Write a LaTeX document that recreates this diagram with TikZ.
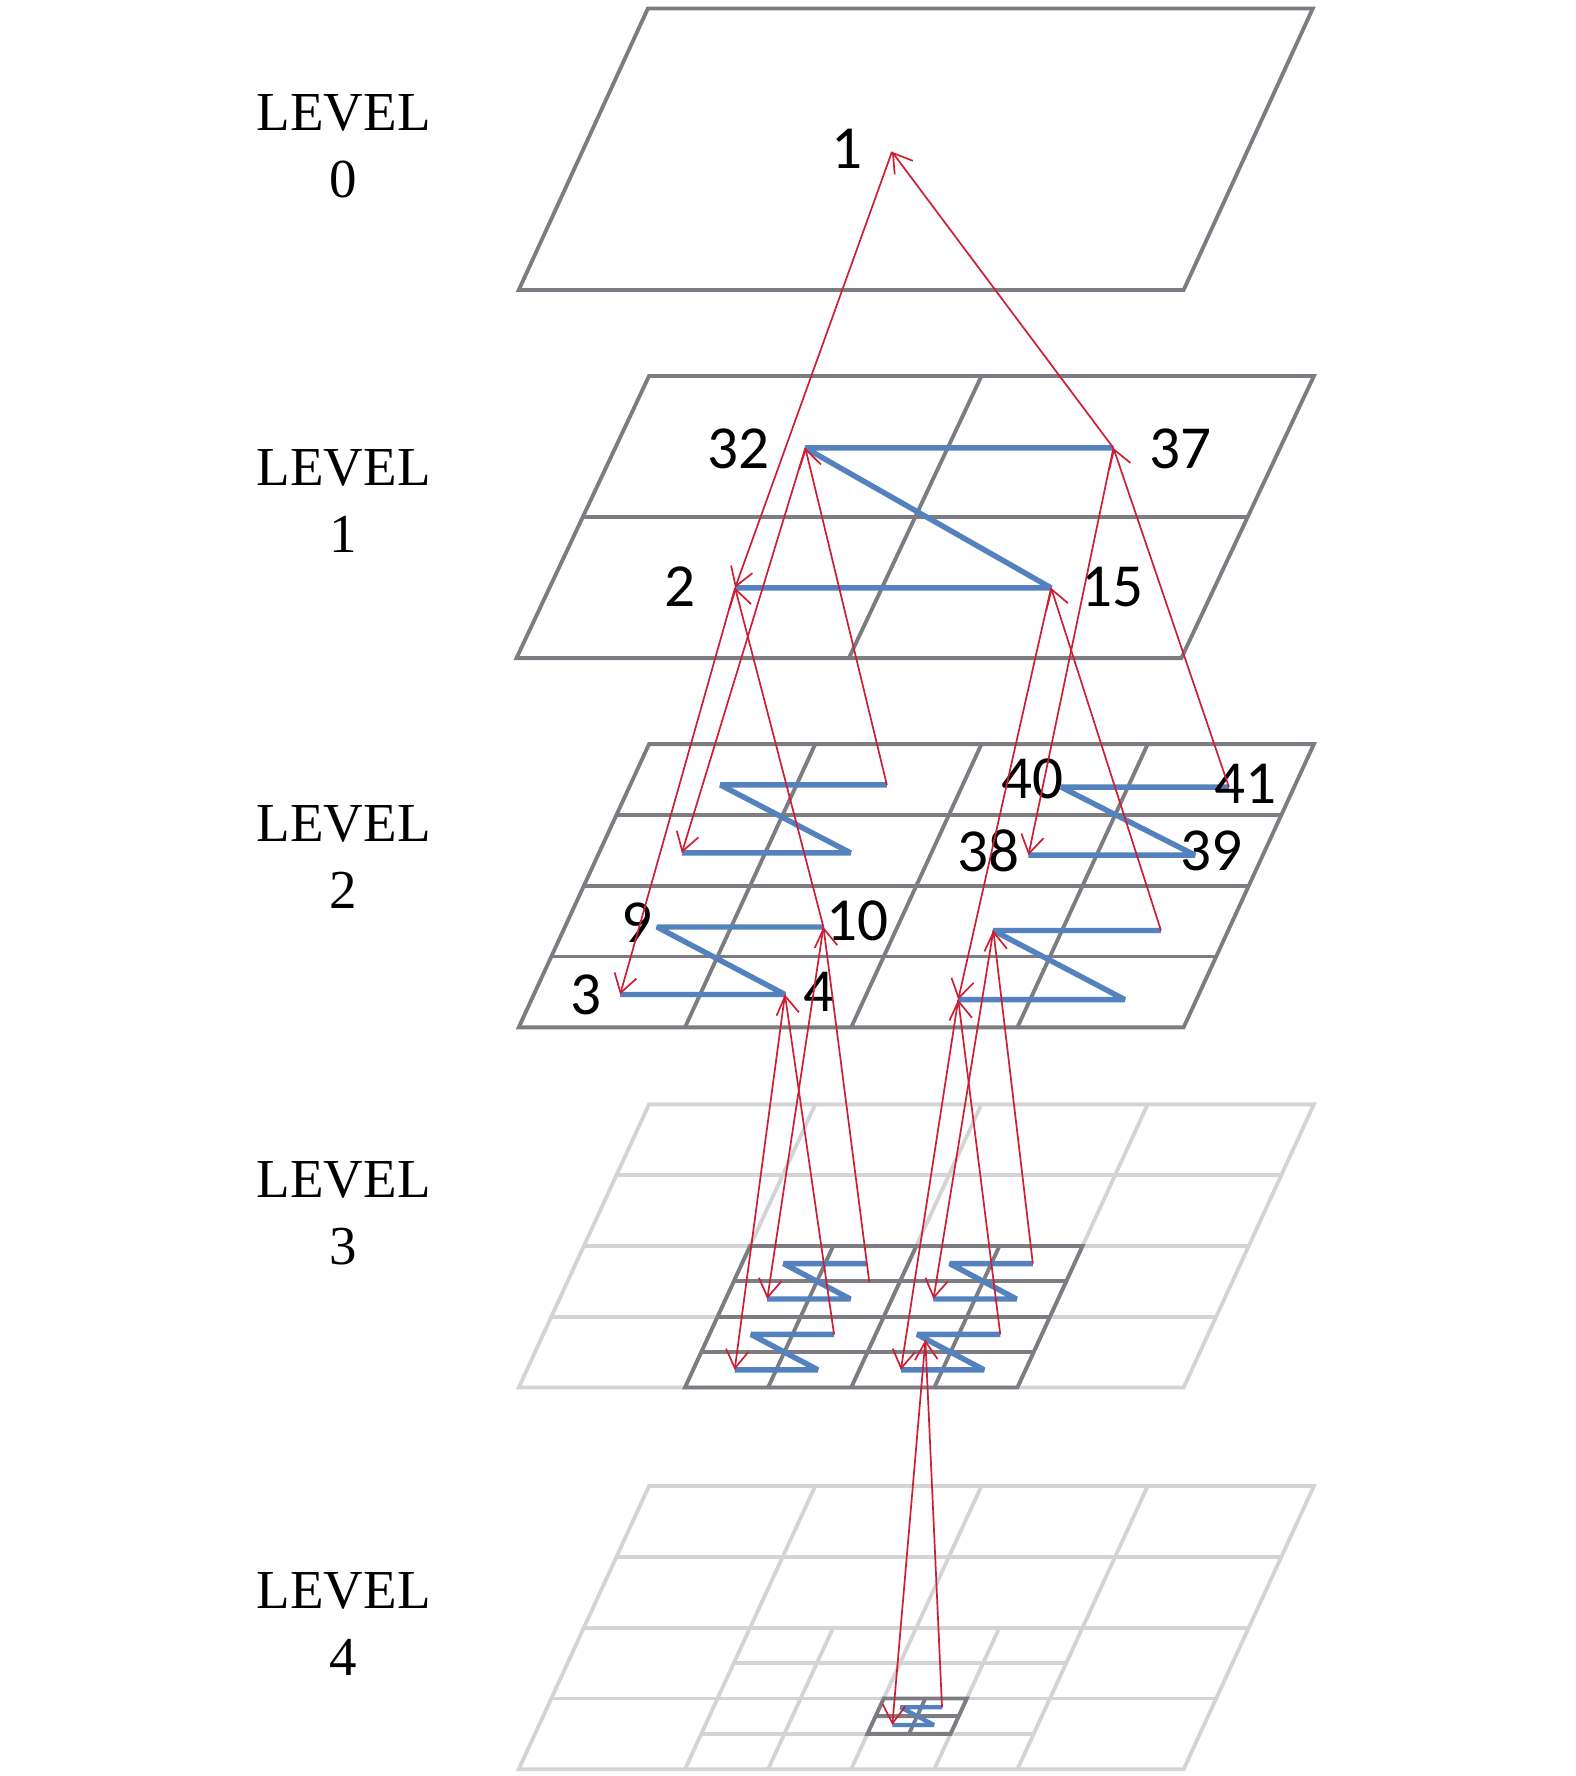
\documentclass[tikz,border=0pt]{standalone}
\usepackage{fontspec}
\setmainfont{Liberation Serif}
\newfontfamily\numfont{Carlito}
\usetikzlibrary{arrows.meta}
\definecolor{gridd}{RGB}{124,124,130}
\definecolor{gridl}{RGB}{212,212,212}
\definecolor{zblue}{RGB}{84,130,190}
\definecolor{lred}{RGB}{206,30,52}
\tikzset{
  dgrid/.style={draw=gridd, line width=3.4pt},
  lgrid/.style={draw=gridl, line width=3.4pt},
  zline/.style={draw=zblue, line width=4.8pt, line join=miter, miter limit=2},
  zsmall/.style={draw=zblue, line width=3.8pt, line join=miter, miter limit=2},
  rarrow/.style={draw=lred, line width=1.5pt, -{Straight Barb[length=16pt,width=20pt]}},
  numlbl/.style={font=\numfont\fontsize{54}{60}\selectfont, inner sep=0pt, anchor=center},
  lvltxt/.style={font=\fontsize{48.5}{59}\selectfont, inner sep=0pt, anchor=base}
}
\begin{document}
\begin{tikzpicture}[x=1pt,y=-1pt]
\useasboundingbox (0,0) rectangle (1391,1568);

% ---------- level labels ----------
\node[lvltxt] (L0a) at (303.5,115) {LEVEL};
\node[lvltxt] (L0b) at (303,174) {0};
\node[lvltxt] (L1a) at (303.5,429) {LEVEL};
\node[lvltxt] (L1b) at (303,488) {1};
\node[lvltxt] (L2a) at (303.5,743) {LEVEL};
\node[lvltxt] (L2b) at (303,802) {2};
\node[lvltxt] (L3a) at (303.5,1057) {LEVEL};
\node[lvltxt] (L3b) at (303,1116) {3};
\node[lvltxt] (L4a) at (303.5,1420) {LEVEL};
\node[lvltxt] (L4b) at (303,1479) {4};

% ---------- level 0 ----------
\begin{scope}[shift={(572,7.5)}, x={(587pt,0pt)}, y={(-114pt,-248.5pt)}]
  \draw[dgrid] (0,0)--(1,0)--(1,1)--(0,1)--cycle;
\end{scope}

% ---------- level 1 ----------
\begin{scope}[shift={(573,332)}, x={(587pt,0pt)}, y={(-117pt,-249pt)}]
  \draw[dgrid] (0,0)--(1,0)--(1,1)--(0,1)--cycle;
  \draw[dgrid] (0,0.5)--(1,0.5) (0.5,0)--(0.5,1);
\end{scope}

% ---------- level 2 ----------
\begin{scope}[shift={(573,657)}, x={(587pt,0pt)}, y={(-115pt,-250pt)}]
  \draw[dgrid] (0,0)--(1,0)--(1,1)--(0,1)--cycle;
  \foreach \t in {0.25,0.5,0.75} {
    \draw[dgrid] (\t,0)--(\t,1);
    \draw[dgrid] (0,\t)--(1,\t);
  }
\end{scope}

% ---------- level 3 ----------
\begin{scope}[shift={(573,975)}, x={(587pt,0pt)}, y={(-115pt,-250pt)}]
  \draw[lgrid] (0,0)--(1,0)--(1,1)--(0,1)--cycle;
  \foreach \t in {0.25,0.5,0.75} {
    \draw[lgrid] (\t,0)--(\t,1);
    \draw[lgrid] (0,\t)--(1,\t);
  }
  \draw[dgrid] (0.25,0.5)--(0.75,0.5)--(0.75,1)--(0.25,1)--cycle;
  \foreach \t in {0.375,0.5,0.625} \draw[dgrid] (\t,0.5)--(\t,1);
  \foreach \t in {0.625,0.75,0.875} \draw[dgrid] (0.25,\t)--(0.75,\t);
  % Z points
  \coordinate (c1) at (0.3125,0.6875); \coordinate (c2) at (0.4375,0.6875);
  \coordinate (c3) at (0.3125,0.5625); \coordinate (c4) at (0.4375,0.5625);
  \coordinate (d1) at (0.5625,0.6875); \coordinate (d2) at (0.6875,0.6875);
  \coordinate (d3) at (0.5625,0.5625); \coordinate (d4) at (0.6875,0.5625);
  \coordinate (e1) at (0.3125,0.9375); \coordinate (e2) at (0.4375,0.9375);
  \coordinate (e3) at (0.3125,0.8125); \coordinate (e4) at (0.4375,0.8125);
  \coordinate (f1) at (0.5625,0.9375); \coordinate (f2) at (0.6875,0.9375);
  \coordinate (f3) at (0.5625,0.8125); \coordinate (f4) at (0.6875,0.8125);
\end{scope}

% ---------- level 4 ----------
\begin{scope}[shift={(573,1312)}, x={(587pt,0pt)}, y={(-115pt,-250pt)}]
  \draw[lgrid] (0,0)--(1,0)--(1,1)--(0,1)--cycle;
  \foreach \t in {0.25,0.5,0.75} {
    \draw[lgrid] (\t,0)--(\t,1);
    \draw[lgrid] (0,\t)--(1,\t);
  }
  \foreach \t in {0.375,0.625} \draw[lgrid] (\t,0.5)--(\t,1);
  \foreach \t in {0.625,0.875} \draw[lgrid] (0.25,\t)--(0.75,\t);
  \draw[dgrid] (0.5,0.75)--(0.625,0.75)--(0.625,0.875)--(0.5,0.875)--cycle;
  \draw[dgrid] (0.5625,0.75)--(0.5625,0.875) (0.5,0.8125)--(0.625,0.8125);
  \coordinate (g1) at (0.53125,0.84375); \coordinate (g2) at (0.59375,0.84375);
  \coordinate (g3) at (0.53125,0.78125); \coordinate (g4) at (0.59375,0.78125);
\end{scope}

% ---------- points of levels 0-2 ----------
\coordinate (p1) at (787.5,134);
\coordinate (p32) at (711,395.5);
\coordinate (p37) at (983,395.5);
\coordinate (p2) at (649,519);
\coordinate (p15) at (928,519);
\coordinate (p3) at (547.5,878);
\coordinate (p4) at (693,878);
\coordinate (p9) at (580,818.4);
\coordinate (p10) at (727,818.4);
\coordinate (a1) at (602,753);
\coordinate (a2) at (751,753);
\coordinate (a3) at (636,693);
\coordinate (a4) at (783,693);
\coordinate (b1) at (846,882.5);
\coordinate (b2) at (993,882.5);
\coordinate (b3) at (877,821.5);
\coordinate (b4) at (1025,821.5);
\coordinate (p38) at (908,755);
\coordinate (p39) at (1055,755);
\coordinate (p40) at (937,695);
\coordinate (p41) at (1085,695);
\coordinate (q10) at (767.5,1132);
\coordinate (f3a) at (817,1183);

% ---------- blue Z curves ----------
\draw[zline] (p2)--(p15)--(p32)--(p37);
\draw[zline] (p3)--(p4)--(p9)--(p10);
\draw[zline] (a1)--(a2)--(a3)--(a4);
\draw[zline] (b1)--(b2)--(b3)--(b4);
\draw[zline] (p38)--(p39)--(p40)--(p41);
\draw[zline] (c1)--(c2)--(c3)--(c4);
\draw[zline] (d1)--(d2)--(d3)--(d4);
\draw[zline] (e1)--(e2)--(e3)--(e4);
\draw[zline] (f1)--(f2)--(f3)--(f4);
\draw[zsmall] (g1)--(g2)--(g3)--(g4);

% ---------- number labels ----------
\node[numlbl] (t1) at (748,131) {1};
\node[numlbl] (t32) at (652,396) {32};
\node[numlbl] (t37) at (1042,396) {37};
\node[numlbl] (t2) at (600,518) {2};
\node[numlbl] (t15) at (982,518) {15};
\node[numlbl] (t9) at (562,815) {9};
\node[numlbl] (t10) at (757,813) {10};
\node[numlbl] (t3) at (517,878) {3};
\node[numlbl] (t4) at (723.5,876) {4};
\node[numlbl] (t40) at (911.5,687.5) {40};
\node[numlbl] (t41) at (1100,692) {41};
\node[numlbl] (t38) at (872.5,751.5) {38};
\node[numlbl] (t39) at (1070,751) {39};

% ---------- red arrows ----------
\draw[rarrow] (p1) -- (p2);
\draw[rarrow] (p37) -- (p1);
\draw[rarrow] (p2) -- (p3);
\draw[rarrow] (p10) -- (p2);
\draw[rarrow] (p32) -- (a1);
\draw[rarrow] (a4) -- (p32);
\draw[rarrow] (p15) -- (b1);
\draw[rarrow] (b4) -- (p15);
\draw[rarrow] (p37) -- (p38);
\draw[rarrow] (p41) -- (p37);
\draw[rarrow] (p4) -- (e1);
\draw[rarrow] (e4) -- (p4);
\draw[rarrow] (p10) -- (c1);
\draw[rarrow] (q10) -- (p10);
\draw[rarrow] (b1) -- (f1);
\draw[rarrow] (f4) -- (b1);
\draw[rarrow] (b3) -- (d1);
\draw[rarrow] (d4) -- (b3);
\draw[rarrow] (f3a) -- (g1);
\draw[rarrow] (g4) -- (f3a);
\end{tikzpicture}
\end{document}
